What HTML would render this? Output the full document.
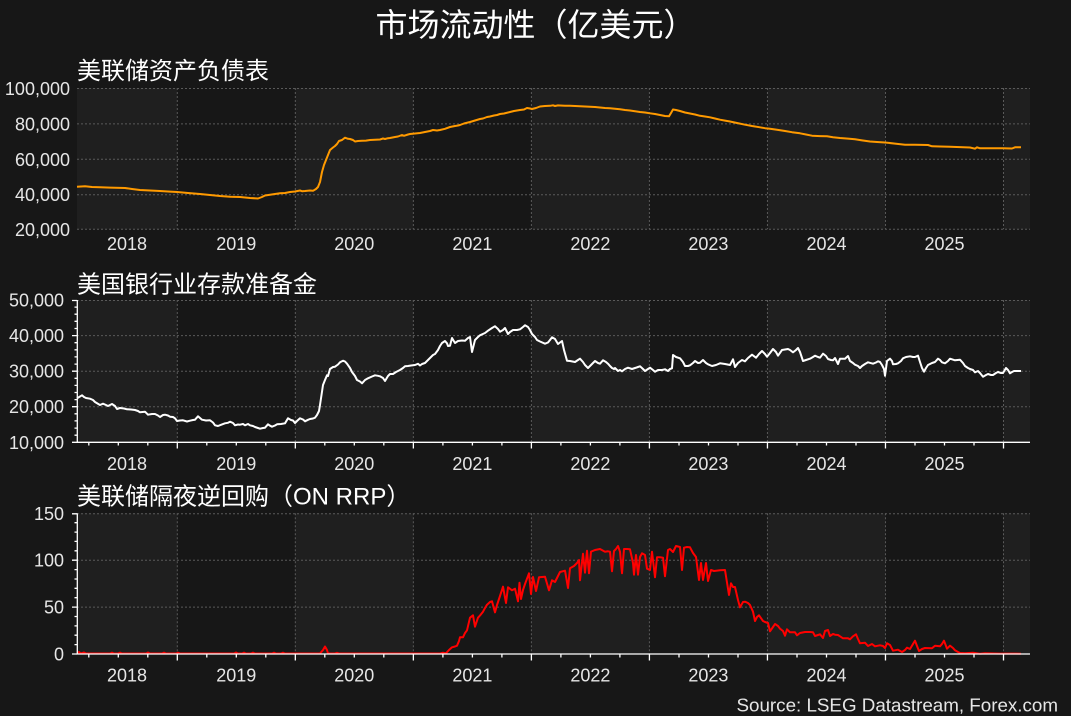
<!DOCTYPE html>
<html><head><meta charset="utf-8">
<style>
html,body{margin:0;padding:0;background:#171717;}
svg{display:block;font-family:"Liberation Sans","Noto Sans CJK SC",sans-serif;}
</style></head>
<body>
<svg width="1071" height="716" viewBox="0 0 1071 716" xmlns="http://www.w3.org/2000/svg">
<rect x="0" y="0" width="1071" height="716" fill="#171717"/>

<!-- Title -->
<text x="535.5" y="36" font-size="32" fill="#ffffff" text-anchor="middle">市场流动性（亿美元）</text>

<!-- ============ PANEL 1 ============ -->
<text x="77" y="79" font-size="24" fill="#ffffff">美联储资产负债表</text>
<g>
<rect x="77" y="88" width="100.3" height="141.3" fill="#1f1f1f"/>
<rect x="295.33" y="88" width="118.03" height="141.3" fill="#1f1f1f"/>
<rect x="531.39" y="88" width="118.03" height="141.3" fill="#1f1f1f"/>
<rect x="767.45" y="88" width="118.03" height="141.3" fill="#1f1f1f"/>
<rect x="1003.5" y="88" width="26.5" height="141.3" fill="#1f1f1f"/>
</g>
<g stroke="#5a5a5a" stroke-width="1" stroke-dasharray="2,2" fill="none">
<path d="M77 88.5H1030M77 123.9H1030M77 159.3H1030M77 194.7H1030M77 229.3H1030"/>
<path d="M177.3 88V229.3M295.33 88V229.3M413.36 88V229.3M531.39 88V229.3M649.42 88V229.3M767.45 88V229.3M885.48 88V229.3M1003.5 88V229.3"/>
</g>
<g font-size="18" fill="#e6e6e6" text-anchor="end">
<text x="70" y="95">100,000</text>
<text x="70" y="130.4">80,000</text>
<text x="70" y="165.8">60,000</text>
<text x="70" y="201.2">40,000</text>
<text x="70" y="236">20,000</text>
</g>
<g font-size="18" fill="#e6e6e6" text-anchor="middle">
<text x="127" y="250">2018</text><text x="236.3" y="250">2019</text><text x="354.3" y="250">2020</text><text x="472.4" y="250">2021</text><text x="590.4" y="250">2022</text><text x="708.4" y="250">2023</text><text x="826.5" y="250">2024</text><text x="944.5" y="250">2025</text>
</g>
<polyline fill="none" stroke="#ff9a00" stroke-width="2" stroke-linejoin="round" points="77,186.7 85,186.3 92,187 100,187.3 110,187.6 125,188 132,189 140,190 150,190.5 160,191 170,191.6 177,192 188,193 200,194 210,195 220,196 230,196.7 240,197 250,198 258,198.5 262,197 265,195.5 270,194.8 275,194 280,193.3 285,193 290,192 295,191.5 300,190.5 302,191.2 305,191 310,190.5 313,190.8 316,189 318,187 320,182 322,172 324,165 326,160 328,155 330,150 333,147.5 335,146 337,144 339,141 342,140 345,137.7 348,138.8 350,139 353,140 355,141.5 358,141 362,140.8 366,140.6 370,140 375,139.8 380,139.5 383,138.5 385,139 388,138.2 390,138 395,137 398,136.5 402,135 404,135.8 408,134.5 410,134 415,133.5 420,133 425,132 430,131 433,130 437,130.5 440,130 445,128.8 450,127 455,126 458,125.5 460,125 464,123.5 468,122.5 470,122 475,120.5 480,119 483,118.5 487,117 490,116.5 494,115.5 497,115 500,114 504,113.5 508,112.5 510,112 514,111 517,110.5 520,110 524,109.5 527,108 530,108.5 532,109 536,108 540,106.5 545,106 550,105.8 553,105.3 555,106 558,105.4 560,105.5 565,105.7 570,105.8 575,106 580,106.2 585,106.5 590,106.7 595,107 600,107.5 605,108 610,108.3 615,108.7 620,109.3 625,110 630,110.5 635,111.2 640,112 645,112.5 650,113.3 655,114 660,115 665,116 669,116.3 671,113 673,109.5 676,110 680,111 685,112.5 690,113.5 695,114.5 700,115.8 705,116.5 710,117.3 715,118.5 720,119.7 725,120.6 730,121.5 737,123 745,124.7 752,126 760,127.3 765,128.2 770,128.7 777,129.8 785,131 792,132.2 800,133.3 806,134.5 812,135.7 820,136.1 827,136.3 833,137.2 840,138 848,138.6 855,139.3 862,140.4 870,141.5 877,142 885,142.5 895,143.6 905,144.7 915,144.8 928,145 932,146.3 940,146.5 950,146.7 960,147.1 970,147.5 975,148.7 977,147.3 980,148.3 990,148.3 1003,148.3 1012,148.5 1015,147.3 1021,147.3"/>

<!-- ============ PANEL 2 ============ -->
<text x="77" y="292.5" font-size="24" fill="#ffffff">美国银行业存款准备金</text>
<g>
<rect x="77" y="300" width="100.3" height="142.3" fill="#1f1f1f"/>
<rect x="295.33" y="300" width="118.03" height="142.3" fill="#1f1f1f"/>
<rect x="531.39" y="300" width="118.03" height="142.3" fill="#1f1f1f"/>
<rect x="767.45" y="300" width="118.03" height="142.3" fill="#1f1f1f"/>
<rect x="1003.5" y="300" width="26.5" height="142.3" fill="#1f1f1f"/>
</g>
<g stroke="#5a5a5a" stroke-width="1" stroke-dasharray="2,2" fill="none">
<path d="M77 300.5H1030M77 335.6H1030M77 371.2H1030M77 406.7H1030"/>
<path d="M177.3 300V442M295.33 300V442M413.36 300V442M531.39 300V442M649.42 300V442M767.45 300V442M885.48 300V442M1003.5 300V442"/>
</g>
<g stroke="#ffffff" stroke-width="1.3" fill="none">
<path d="M77.3 300V442.8M76.6 442.3H1030"/>
<path d="M72 300.5H77M72 335.6H77M72 371.2H77M72 406.7H77M72 442.3H77"/>
<path d="M74.5 307.1H77M74.5 314.2H77M74.5 321.3H77M74.5 328.5H77M74.5 342.7H77M74.5 349.8H77M74.5 356.9H77M74.5 364.1H77M74.5 378.3H77M74.5 385.4H77M74.5 392.5H77M74.5 399.6H77M74.5 413.8H77M74.5 420.9H77M74.5 428.1H77M74.5 435.2H77"/>
<path d="M177.3 442V448.5M295.33 442V448.5M413.36 442V448.5M531.39 442V448.5M649.42 442V448.5M767.45 442V448.5M885.48 442V448.5M1003.5 442V448.5"/>
<path d="M88.8 442V445.5M118.3 442V445.5M147.8 442V445.5M206.8 442V445.5M236.3 442V445.5M265.8 442V445.5M324.8 442V445.5M354.3 442V445.5M383.8 442V445.5M442.9 442V445.5M472.4 442V445.5M501.9 442V445.5M560.9 442V445.5M590.4 442V445.5M619.9 442V445.5M679 442V445.5M708.5 442V445.5M738 442V445.5M797 442V445.5M826.5 442V445.5M856 442V445.5M915 442V445.5M944.5 442V445.5M974 442V445.5"/>
</g>
<g font-size="18" fill="#e6e6e6" text-anchor="end">
<text x="64" y="306.5">50,000</text>
<text x="64" y="342.1">40,000</text>
<text x="64" y="377.7">30,000</text>
<text x="64" y="413.2">20,000</text>
<text x="64" y="448.8">10,000</text>
</g>
<g font-size="18" fill="#e6e6e6" text-anchor="middle">
<text x="127" y="470">2018</text><text x="236.3" y="470">2019</text><text x="354.3" y="470">2020</text><text x="472.4" y="470">2021</text><text x="590.4" y="470">2022</text><text x="708.4" y="470">2023</text><text x="826.5" y="470">2024</text><text x="944.5" y="470">2025</text>
</g>
<polyline fill="none" stroke="#ffffff" stroke-width="2" stroke-linejoin="round" points="77,398.3 80,396.5 82,395.3 84,397 86,398 90,398.7 93,400 95,402 100,405 103,403.7 106,405 108,406 112,404 115,406 117,409 120,408 124,408.5 127,409.3 131,409.5 135,410 138,411 140,412.3 145,411.7 148,414.7 152,414 155,414 158,415.5 160,417 163,415 165,414.7 168,415.5 170,416.7 173,417 175,418.3 177,421 180,420.5 183,420.3 187,421.5 190,420.7 193,420 195,419.7 198,416.3 200,418 202,419.7 206,420.5 210,420.3 213,422.5 215,425.3 218,426 221,424.8 225,423.3 228,422.8 230,421.7 233,423 235,425.3 238,424.5 240,424.7 243,424 245,425.3 248,424 250,425.3 253,426 255,427 258,428 260,428.7 263,428 265,427.7 268,424.3 270,425.7 272,426.7 275,425.5 277,424.3 281,424 285,423.3 288,418.3 291,420 293,420.5 295,423 297,421 300,418.3 303,419.5 305,421.3 308,419.8 310,419 313,418.5 315,417.7 317,415 319,411 320,405 321.5,395 323,385 325,380 327,375.3 328,376 330,369 333,367 335,366.7 338,364.5 340,362.3 343,360.7 345,361.5 347,363.7 350,368 352,372 355,376 357,380 360,381.5 362,383.3 365,380 368,378.3 372,376.5 375,375.3 378,375.8 380,376.3 383,378 385,381 388,376 390,374 393,374 396,372 400,370 403,368 405,366.3 408,366 411,365.5 415,365 418,363.8 420,365.5 422,364 425,363 428,360 430,358 433,355 435,354 438,350 440,346 442,343 445,341 447,343.3 448,346 450,345.7 452,338 455,343 458,341 462,340.5 465,340.7 468,338 470,337 472,352 475,340 478,337 480,335.3 485,333 488,330.7 492,328 495,326.3 498,329 500,331.7 503,330 505,328 508,334 510,332 513,330 517,330 520,329.3 523,327 525,325.3 528,327 530,330 532,334 535,337 537,340 540,341.5 545,343.7 548,342.5 550,340 552,337.3 555,339 558,344 560,342.5 562,341 564,350 567,360.7 570,361 575,362 578,360 580,358.7 583,362 585,365 588,368 590,366 592,364 595,361 598,363 600,363.7 603,360.3 606,362 608,363.7 610,366 612,368 614,369 615,368 618,371 620,370 622,371.3 625,369 628,367.7 632,369 635,368 638,367 640,366.3 643,369 645,371 648,369 650,367.7 653,370 655,371.7 658,370 662,370 665,369.3 668,371 670,369 672,368.3 673,355 676,357 680,358.3 683,362 685,366 688,366 690,365.3 693,363 695,361 698,363 700,362.7 703,360 706,363 708,364.3 712,366 716,365 720,363.3 725,364 730,365 733,359.3 735,367 738,363 742,360 745,361.3 748,358 752,354.7 756,357.7 759,354 762,351 765,354 767,356.7 770,353 773,349 776,352 778,355.7 782,350 785,349.5 788,349 790,350 793,352.3 796,350 798,348 800,352 803,361 806,360 810,358.7 813,357 815,355.7 818,357 820,357.7 823,353.7 826,356 828,359 831,360 833,360.3 835,358 838,364 840,358.7 845,358.7 848,356 850,361 853,363 855,364.7 858,366 860,368 862,366 865,364 868,362.3 873,363.7 876,362.5 878,361.3 880,362 882,365 884,369 885,375.7 887,361 890,358.7 892,361 893,364.3 896,364 898,363.3 901,361 903,358.3 906,357 910,356.3 913,357 915,357 918,355.7 920,362 922,368 924,371.7 926,368 928,365 932,363 935,362 938,358.7 940,360 942,362.3 945,363.3 948,361 950,358.7 955,360.3 960,359.7 963,363 965,366 968,368 970,369 973,370 975,372.3 978,371 980,373 983,376.7 986,375 988,374 991,375 993,375 996,373 998,372 1001,373 1003,373 1006,368 1008,370 1010,373.3 1012,372 1014,371 1018,371 1021,371"/>

<!-- ============ PANEL 3 ============ -->
<text x="77" y="504.5" font-size="24" fill="#ffffff">美联储隔夜逆回购（ON RRP）</text>
<g>
<rect x="77" y="513.3" width="100.3" height="140.7" fill="#1f1f1f"/>
<rect x="295.33" y="513.3" width="118.03" height="140.7" fill="#1f1f1f"/>
<rect x="531.39" y="513.3" width="118.03" height="140.7" fill="#1f1f1f"/>
<rect x="767.45" y="513.3" width="118.03" height="140.7" fill="#1f1f1f"/>
<rect x="1003.5" y="513.3" width="26.5" height="140.7" fill="#1f1f1f"/>
</g>
<g stroke="#5a5a5a" stroke-width="1" stroke-dasharray="2,2" fill="none">
<path d="M77 513.8H1030M77 560.2H1030M77 607.1H1030"/>
<path d="M177.3 513.3V654M295.33 513.3V654M413.36 513.3V654M531.39 513.3V654M649.42 513.3V654M767.45 513.3V654M885.48 513.3V654M1003.5 513.3V654"/>
</g>
<g font-size="18" fill="#e6e6e6" text-anchor="end">
<text x="64" y="520">150</text>
<text x="64" y="566.7">100</text>
<text x="64" y="613.6">50</text>
<text x="64" y="660.5">0</text>
</g>
<g font-size="18" fill="#e6e6e6" text-anchor="middle">
<text x="127" y="681.7">2018</text><text x="236.3" y="681.7">2019</text><text x="354.3" y="681.7">2020</text><text x="472.4" y="681.7">2021</text><text x="590.4" y="681.7">2022</text><text x="708.4" y="681.7">2023</text><text x="826.5" y="681.7">2024</text><text x="944.5" y="681.7">2025</text>
</g>
<polyline fill="none" stroke="#ff0000" stroke-width="2" stroke-linejoin="round" points="77,653 79,652 81,653.5 84,652.5 86,653.5 110,653.5 112,652.6 114,653.5 118,653.5 120,652.6 122,653.5 146,653.5 148,652.5 150,653.5 162,653.5 164,652.6 166,653.5 176,653.5 178,652.7 180,653.5 234,653.5 236,652.5 238,653.5 242,653.5 244,652.6 246,653.5 251,653.5 253,652.6 255,653.5 272,653.5 274,652.7 276,653.5 281,653.5 283,652.7 285,653.5 320,653.5 323,650 325,646.5 327,650 328,653.5 335,653.5 337,652.8 339,653.5 440,653.5 443,652.7 446,653.3 449,650 452,647.3 455,646.5 457,645.7 459,641 460,637.3 463,637.3 465,633 467,630.3 470,617.7 473,615.3 475,626.7 478,617.7 480,615.5 483,611.7 485,608 487,604.7 490,602 492,601.3 495,612.3 497,605 500,596 503,586.7 506,603 508,587.3 512,590.3 515,588.7 518,601.3 519.5,582.7 521,599 523,590 525,584 529,573.3 531,594 533,577 536,591 539,577.3 542,577 545,576.7 549,590.3 552,580.3 555,582 558,576 560,572 565,570.7 568,588 570,568.3 574,566 577,563 579,560 580,580.3 583,553.7 585,572.7 587,550.7 589,573.3 591,551.7 595,550 600,549 605,551.7 608,551.3 610,551.7 612,571.3 614,551 616,549 618,546 620,551.7 622,573.3 624,549 627,549 630,549.3 633,563 634,574.7 636,555 638,574.7 640,557 642,553.3 645,555 647,568.7 650,570 652,551.7 655,577.3 657,557.3 660,557.3 663,557.7 665,576.3 668,550 670,549 673,552 676,546 680,547 682,570 684,547.7 687,547 690,547.3 693,553 696,557 699,580 701,563 703,580 706,563 708,581 711,570 714,571 720,570.3 725,570 729,595 731,583.3 733,587 735,587 738,600 740,607.3 743,602 745,601.7 748,603 750,605 753,611.7 755,621 757,617 759,615.3 763,621 765,622 768,623 770,631.3 773,627 775,624 778,626 780,628.7 783,631 785,635.7 787,629.3 790,632.3 795,632.3 797,635.3 800,633 805,632 810,632 813,632.3 815,636 818,635 820,634.3 823,638 825,631 828,630 830,636 833,634 835,634.7 838,635 840,636.3 843,638.3 848,638.3 850,639.3 853,636.3 856,634.3 858,639 860,643.3 865,642.7 868,646 872,644 875,646.3 880,645.3 883,646 885,648 887,643.3 890,645 893,650.7 898,649.7 902,652 905,650 907,647.7 910,649 913,644 915,640.7 917,646 919,651 922,649 925,648 932,648.3 935,645.7 940,646.3 942,644 944,640.7 946,646 947,648.7 950,645.7 953,648 955,650.3 958,652 960,653 965,653.3 973,652.7 980,653.7 985,653.3 1000,653.6 1021,653.7"/>
<g stroke="#ffffff" stroke-width="1.3" fill="none">
<path d="M77.3 513.3V654.5M76.6 654H1030"/>
<path d="M72 513.8H77M72 560.2H77M72 607.1H77M72 654H77"/>
<path d="M74.5 522.7H77M74.5 532.1H77M74.5 541.4H77M74.5 550.8H77M74.5 569.6H77M74.5 579H77M74.5 588.3H77M74.5 597.7H77M74.5 616.5H77M74.5 625.9H77M74.5 635.2H77M74.5 644.6H77"/>
<path d="M177.3 654V660.5M295.33 654V660.5M413.36 654V660.5M531.39 654V660.5M649.42 654V660.5M767.45 654V660.5M885.48 654V660.5M1003.5 654V660.5"/>
<path d="M88.8 654V657.5M118.3 654V657.5M147.8 654V657.5M206.8 654V657.5M236.3 654V657.5M265.8 654V657.5M324.8 654V657.5M354.3 654V657.5M383.8 654V657.5M442.9 654V657.5M472.4 654V657.5M501.9 654V657.5M560.9 654V657.5M590.4 654V657.5M619.9 654V657.5M679 654V657.5M708.5 654V657.5M738 654V657.5M797 654V657.5M826.5 654V657.5M856 654V657.5M915 654V657.5M944.5 654V657.5M974 654V657.5"/>
</g>

<!-- Source -->
<text x="1058" y="711.5" font-size="18.8" fill="#e6e6e6" text-anchor="end">Source: LSEG Datastream, Forex.com</text>
</svg>
</body></html>
